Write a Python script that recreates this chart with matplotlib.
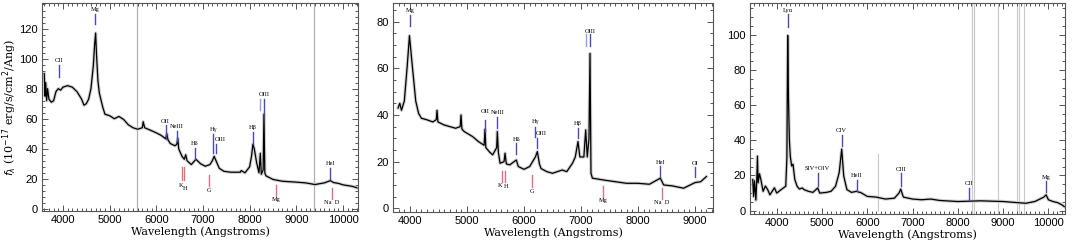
import matplotlib.pyplot as plt
from matplotlib.ticker import MultipleLocator, AutoMinorLocator

plt.rcParams['font.family'] = 'Liberation Sans'

# ---- panel 1 spectrum ----
wave1 = [3600, 3615, 3630, 3650, 3670, 3700, 3750, 3800, 3850, 3900, 3950, 4000, 4100, 4200,
         4300, 4400, 4450, 4500, 4550, 4600, 4650, 4680, 4700, 4720, 4750, 4780, 4850, 4900,
         5000, 5100, 5200, 5300, 5400, 5500, 5600, 5700, 5720, 5750, 5900, 6000, 6100, 6200,
         6225, 6250, 6300, 6400, 6440, 6460, 6480, 6550, 6600, 6630, 6660, 6750, 6850, 6950,
         7050, 7150, 7200, 7240, 7280, 7350, 7450, 7600, 7800, 7820, 7900, 8000, 8040, 8070,
         8100, 8150, 8200, 8229, 8250, 8290, 8307, 8325, 8350, 8500, 8700, 9000, 9200, 9400,
         9600, 9729, 9800, 9900, 10000, 10100, 10200, 10300]
flux1 = [90, 75, 84, 72, 80, 73, 71, 72, 78, 80, 79, 81, 82, 81,
         78, 73, 69, 70, 73, 80, 95, 110, 117, 102, 85, 77, 68, 63,
         62, 60, 61.5, 59.5, 56, 54, 53, 54, 58, 54, 52, 50.6, 49, 46.7,
         50, 46, 43.5, 42, 43, 47, 40, 35, 33, 36, 32, 29.5, 33, 30,
         28.4, 29.5, 32, 35, 32, 27, 25, 24.4, 24.4, 25.5, 24, 28, 35, 43,
         40, 30.7, 24, 37, 23, 26, 63, 24, 22, 19.6, 18.4, 17.8, 17.3, 16.2,
         17.3, 18.8, 17.5, 17, 16, 15.5, 15, 14]

# ---- panel 2 spectrum ----
wave2 = [3790, 3820, 3850, 3900, 3950, 3990, 4030, 4100, 4150, 4200, 4300, 4400, 4460, 4474,
         4490, 4600, 4700, 4800, 4880, 4895, 4910, 4950, 5100, 5200, 5300, 5316, 5330, 5400,
         5450, 5520, 5532, 5550, 5580, 5650, 5667, 5690, 5750, 5865, 5900, 6000, 6100, 6150,
         6200, 6234, 6270, 6300, 6400, 6500, 6670, 6750, 6850, 6900, 6947, 6980, 7050, 7082,
         7110, 7140, 7158, 7175, 7200, 7400, 7600, 7800, 8000, 8200, 8392, 8450, 8600, 8800,
         9000, 9100, 9200]
flux2 = [43, 45, 42, 46, 60.7, 74, 63.6, 46, 40.7, 38.6, 37.9, 37, 38, 42,
         37, 35.7, 35, 34.3, 35, 40, 34, 32.9, 30.7, 28.6, 27, 33.9, 26, 24,
         22.9, 26, 32.9, 24, 19.3, 20, 23.6, 19, 18.6, 20.7, 17.9, 16.7, 17.9, 20,
         22, 24.3, 19, 17, 15.7, 15, 16.4, 15.7, 19.3, 22, 28.6, 22, 22, 33.6,
         22, 30, 66.4, 15, 12.9, 12.1, 11.4, 10.7, 10.7, 10.3, 12.9, 10, 9.6, 8.6,
         11, 11.4, 13.6]

# ---- panel 3 spectrum ----
wave3 = [3470, 3490, 3510, 3540, 3560, 3575, 3590, 3620, 3650, 3700, 3750, 3800, 3850, 3900,
         3950, 4000, 4100, 4200, 4225, 4243, 4260, 4280, 4300, 4330, 4360, 4400, 4450, 4500,
         4567, 4600, 4700, 4800, 4906, 4950, 5100, 5200, 5300, 5380, 5436, 5480, 5550, 5650,
         5767, 5826, 5850, 6000, 6200, 6400, 6600, 6700, 6739, 6780, 6800, 7000, 7200, 7400,
         7600, 8000, 8500, 9000, 9300, 9500, 9700, 9900, 9950, 10000, 10100, 10200, 10300, 10350]
flux3 = [17.7, 8, 17, 6, 17.7, 31, 15.8, 21, 17.7, 11, 14, 12, 9, 11,
         13, 10, 12, 13.9, 30, 99.6, 64, 40, 31, 25.4, 26.4, 17.7, 13.9, 12.3,
         12.9, 12, 11, 10.4, 12.9, 10, 10.4, 11, 13.9, 21.6, 35, 19.7, 12, 10.4,
         11, 10.4, 10.4, 8.1, 7.7, 6.6, 7.1, 10, 12.3, 9, 7.7, 6.6, 6.2, 6.6,
         5.8, 5.2, 5.6, 5.2, 4.6, 4.2, 5.2, 7.7, 9, 6.2, 5.2, 4.6, 3.3, 2.3]

# line markers: (label, wavelength, y_low, y_high, label_y, kind, label_align)
marks1 = [("CII", 3914, 88, 96, 99, "em", "c"), ("Mg", 4693, 123, 129.5, 133, "em", "c"),
          ("OII", 6200, 46.7, 55.5, 58, "em", "c"), ("NeIII", 6443, 45, 52, 55, "em", "c"),
          ("Hδ", 6821, 33, 40.5, 43.5, "em", "c"), ("Hγ", 7221, 37, 50, 53, "em", "c"),
          ("OIII", 7271, 37, 43.5, 46.5, "em", "l"), ("Hβ", 8071, 43, 51, 54, "em", "c"),
          ("", 8229, 66, 73, 0, "em2", "c"), ("OIII", 8307, 63, 73, 76, "em", "c"),
          ("HeI", 9729, 20, 27.5, 30.5, "em", "c"),
          ("K", 6557, 19.5, 28, 15.5, "abs", "r"), ("H", 6593, 19.5, 28, 13.5, "abs", "l"),
          ("G", 7136, 15, 22.5, 12, "abs", "c"), ("Mg", 8571, 8.5, 16, 6, "abs", "c"),
          ("Na  D", 9764, 6.5, 14, 4.5, "abs", "c")]
marks2 = [("Mg", 4000, 78, 83, 84.6, "em", "c"), ("OII", 5316, 33, 38, 41.7, "em", "c"),
          ("NeIII", 5532, 34.6, 39.3, 41.2, "em", "c"), ("Hδ", 5865, 23.3, 28, 29.5, "em", "c"),
          ("Hγ", 6199, 30.7, 35, 37, "em", "c"), ("OIII", 6234, 25.7, 30, 32, "em", "l"),
          ("Hβ", 6947, 30, 34.6, 36.4, "em", "c"), ("", 7082, 69.6, 74.6, 0, "em2", "c"),
          ("OIII", 7158, 69.6, 74.6, 76, "em", "c"), ("HeI", 8392, 13.6, 18.3, 19.7, "em", "c"),
          ("OI", 9006, 13.6, 17.9, 19.4, "em", "c"),
          ("K", 5614, 11.4, 16.1, 9.8, "abs", "r"), ("H", 5661, 11.4, 16.1, 9.4, "abs", "l"),
          ("G", 6140, 9.3, 14.3, 7.4, "abs", "c"), ("Mg", 7392, 5, 9.6, 3.4, "abs", "c"),
          ("Na  D", 8421, 3.9, 8.6, 2.4, "abs", "c")]
marks3 = [("Lyα", 4243, 104.4, 111.8, 113.7, "em", "c"),
          ("SIV+OIV", 4906, 14.3, 21.2, 23.9, "em", "c"),
          ("CIV", 5436, 37, 43.2, 45.7, "em", "c"), ("HeII", 5767, 11, 17.7, 20, "em", "c"),
          ("CIII", 6739, 13.9, 21.2, 23.5, "em", "c"), ("CII", 8249, 6.2, 12.9, 15.4, "em", "c"),
          ("Mg", 9950, 10.4, 16.8, 18.7, "em", "c")]

# masked columns (grey verticals)
gray1 = [5586, 9386]
gray3 = [8322, 8366, 8882, 9302, 9353, 9464]
gray3_short = [(6246, 32)]

colors = {"em": "#4848b8", "em2": "#9a9ae0", "abs": "#e07080"}
align = {"c": "center", "l": "left", "r": "right"}

fig = plt.figure(figsize=(10.73, 2.45), dpi=100)
ax1 = fig.add_axes([0.0391, 0.1388, 0.2945, 0.849])
ax2 = fig.add_axes([0.3663, 0.1347, 0.2982, 0.853])
ax3 = fig.add_axes([0.699, 0.1265, 0.2936, 0.861])

panels = [
    (ax1, wave1, flux1, marks1, (3550, 10321), (-1.4, 137), 5),
    (ax2, wave2, flux2, marks2, (3702, 9316), (-1.6, 88), 4),
    (ax3, wave3, flux3, marks3, (3411, 10368), (-1.9, 118), 4),
]

for ax, w, f, marks, xl, yl, ymin in panels:
    ax.plot(w, f, color='#d0d0d0', lw=2.4, zorder=2)
    ax.plot(w, f, color='black', lw=0.9, zorder=3)
    span = xl[1] - xl[0]
    for name, lam, y0, y1, ly, kind, al in marks:
        ax.plot([lam, lam], [y0, y1], color=colors[kind], lw=1.0, zorder=4)
        if name:
            dx = {"c": 0, "l": -0.004 * span, "r": 0.002 * span}[al]
            ax.text(lam + dx, ly, name, fontsize=4.6, family='Liberation Serif',
                    ha=align[al], va='center', zorder=5)
    ax.set_xlim(*xl)
    ax.set_ylim(*yl)
    ax.xaxis.set_major_locator(MultipleLocator(1000))
    ax.xaxis.set_minor_locator(AutoMinorLocator(10))
    ax.yaxis.set_major_locator(MultipleLocator(20))
    ax.yaxis.set_minor_locator(AutoMinorLocator(ymin))
    ax.tick_params(which='both', direction='in', top=True, right=True,
                   labelsize=8, color='#555555', width=0.7, pad=3)
    ax.tick_params(which='major', length=4)
    ax.tick_params(which='minor', length=2)
    for s in ax.spines.values():
        s.set_color('#555555')
        s.set_linewidth(0.8)
    ax.set_xlabel('Wavelength (Angstroms)', family='DejaVu Serif', fontsize=8, labelpad=1)

for g in gray1:
    ax1.axvline(g, color='#b0b0b0', lw=0.9, zorder=1)
for g in gray3:
    ax3.axvline(g, color='#c8c8c8', lw=0.8, zorder=1)
for g, top in gray3_short:
    ax3.plot([g, g], [0, top], color='#c8c8c8', lw=0.8, zorder=1)

ax1.set_ylabel(r'$f_\lambda$ (10$^{-17}$ erg/s/cm$^2$/Ang)', family='DejaVu Serif',
               fontsize=8)
ax1.yaxis.set_label_coords(-0.072, 0.5)

fig.savefig('out.png', dpi=100)
